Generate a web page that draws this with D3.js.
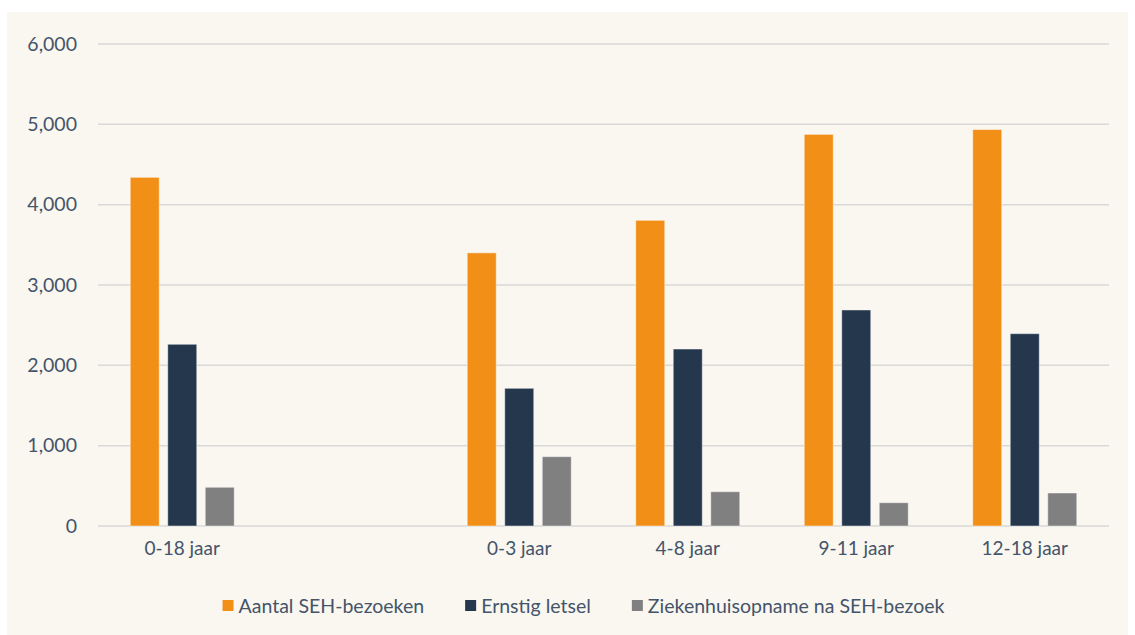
<!DOCTYPE html>
<html>
<head>
<meta charset="utf-8">
<script src="https://cdn.jsdelivr.net/npm/d3@7"></script>
<style>
  body { margin: 0; background: #fff; }
  svg { display: block; font-family: Lato, "Open Sans", sans-serif; }
</style>
</head>
<body>
<svg id="chart"></svg>
<script>
const categories = ['0-18 jaar', '', '0-3 jaar', '4-8 jaar', '9-11 jaar', '12-18 jaar'];
const seriesNames = ['Aantal SEH-bezoeken', 'Ernstig letsel', 'Ziekenhuisopname na SEH-bezoek'];
const seh = [4340, null, 3400, 3805, 4875, 4935];
const letsel = [2262, null, 1714, 2203, 2689, 2394];
const opname = [482, null, 863, 427, 290, 411];
const yTicks = [0, 1000, 2000, 3000, 4000, 5000, 6000];

const colors = ['#f18f17', '#25374d', '#808080'];
const textColor = '#44546a';

const W = 1135, H = 635;
const plot = { left: 98, right: 1109, top: 44, bottom: 526 };

const svg = d3.select('#chart').attr('width', W).attr('height', H);

// panel background
svg.append('rect')
   .attr('x', 7).attr('y', 12)
   .attr('width', 1121).attr('height', H - 12)
   .attr('fill', '#faf7f0');

const x0 = d3.scaleBand()
             .domain(categories.map((c, i) => i))
             .range([plot.left, plot.right]);

const x1 = d3.scaleBand()
             .domain(seriesNames)
             .range([-52, 52])
             .paddingInner(0.227);

const y = d3.scaleLinear()
            .domain([0, 6000])
            .range([plot.bottom, plot.top]);

// gridlines
svg.append('g')
   .selectAll('line')
   .data(yTicks)
   .enter()
   .append('line')
   .attr('x1', plot.left).attr('x2', plot.right)
   .attr('y1', d => y(d)).attr('y2', d => y(d))
   .attr('stroke', '#d9d9d9')
   .attr('stroke-width', 1.5);

// Y axis labels
const yAxis = svg.append('g')
   .attr('transform', `translate(${plot.left - 21},0)`)
   .call(d3.axisLeft(y).tickValues(yTicks).tickFormat(d3.format(',')).tickSize(0).tickPadding(0));
yAxis.select('.domain').remove();
yAxis.selectAll('text')
     .attr('fill', textColor)
     .style('font-size', '19.5px')
     .style('font-family', 'Lato, sans-serif');

// X axis labels
const xAxis = svg.append('g')
   .attr('transform', `translate(0,${plot.bottom + 15})`)
   .call(d3.axisBottom(x0).tickFormat(i => categories[i]).tickSize(0).tickPadding(0));
xAxis.select('.domain').remove();
xAxis.selectAll('text')
     .attr('fill', textColor)
     .style('font-size', '19px')
     .style('font-family', 'Lato, sans-serif');

// bars
const rows = categories.map((c, i) => ({
  i: i,
  values: [seh[i], letsel[i], opname[i]]
}));

const groups = svg.append('g')
   .selectAll('g')
   .data(rows)
   .enter()
   .append('g')
   .attr('transform', d => `translate(${x0(d.i) + x0.bandwidth() / 2},0)`);

groups.selectAll('rect')
      .data(d => d.values.map((v, k) => ({ k: k, v: v })).filter(e => e.v != null))
      .enter()
      .append('rect')
      .attr('x', d => x1(seriesNames[d.k]))
      .attr('width', x1.bandwidth())
      .attr('y', d => y(d.v))
      .attr('height', d => y(0) - y(d.v))
      .attr('fill', d => colors[d.k])
      .attr('stroke', 'rgba(255,255,255,0.45)')
      .attr('stroke-width', 1);

// legend
const legend = svg.append('g').attr('transform', 'translate(0,606)');
const items = legend.selectAll('g')
   .data(seriesNames)
   .enter()
   .append('g');
items.append('rect')
     .attr('y', -6).attr('width', 11).attr('height', 11)
     .attr('fill', (d, i) => colors[i]);
items.append('text')
     .attr('x', 16).attr('y', 0)
     .attr('dy', '0.35em')
     .attr('fill', textColor)
     .style('font-size', '19.5px')
     .text(d => d);

let pos = 0;
const offsets = [];
items.each(function() {
  offsets.push(pos);
  const w = 16 + d3.select(this).select('text').node().getComputedTextLength();
  pos += w + 41;
});
const total = pos - 41;
const start = 583.5 - total / 2;
items.attr('transform', (d, i) => `translate(${start + offsets[i]},0)`);
</script>
</body>
</html>
